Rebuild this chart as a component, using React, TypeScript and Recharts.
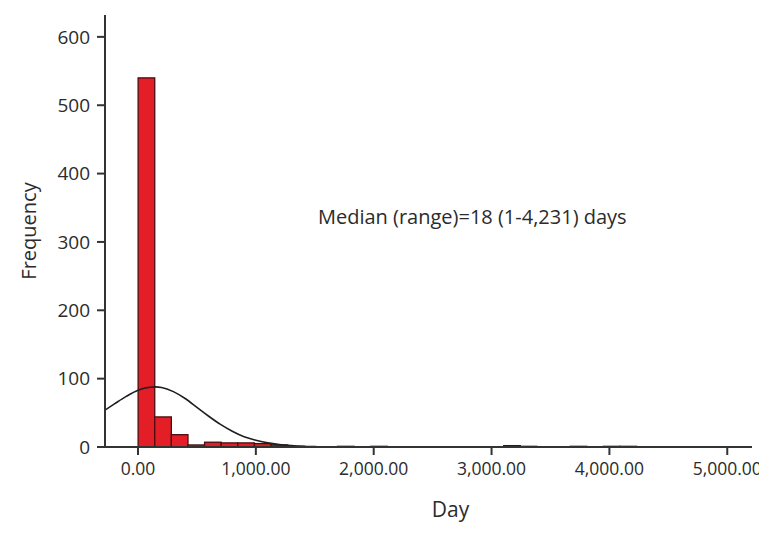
import React from 'react';
import {
  ComposedChart,
  Bar,
  Line,
  XAxis,
  YAxis,
  ReferenceDot,
} from 'recharts';

// Histogram bins (days), bin width from the SPSS-style histogram
const binStarts = [
  1, 142, 283, 424, 565, 706, 847, 988, 1129, 1270,
  1411, 1552, 1693, 1834, 1975, 2116, 2257, 2398, 2539, 2680,
  2821, 2962, 3103, 3244, 3385, 3526, 3667, 3808, 3949, 4090,
];
const binCounts = [
  540, 44, 18, 3, 7, 6, 6, 5, 3, 1,
  0, 0, 1, 0, 1, 0, 0, 0, 0, 0,
  0, 0, 2, 1, 0, 0, 1, 0, 1, 1,
];
const BIN_WIDTH = 141;

// Fitted normal curve
const curveX = [-280, -200, -100, 0, 100, 150, 200, 300, 400, 500, 600, 700, 800, 900, 1000, 1100, 1200, 1300, 1400, 1500, 1600, 1800, 2200, 5210];
const curveY = [54, 63, 74, 83, 87.5, 88, 87, 81, 71, 58, 45, 33, 23, 15, 10, 6, 3.5, 2, 1, 0.5, 0.2, 0, 0, 0];

const xTicks = [0, 1000, 2000, 3000, 4000, 5000];
const yTicks = [0, 100, 200, 300, 400, 500, 600];

const X_MIN = -280;
const X_MAX = 5210;
const Y_MAX = 632;

const CHART_W = 759;
const CHART_H = 525;
const MARGIN = { top: 7, right: 15, left: 0, bottom: 0 };
const Y_AXIS_W = 97;
const X_AXIS_H = 86;
const PLOT_W = CHART_W - MARGIN.left - MARGIN.right - Y_AXIS_W;

const barData = binStarts.map((s, i) => ({ x: s + BIN_WIDTH / 2, count: binCounts[i] }));
const curveData = curveX.map((x, i) => ({ x, y: curveY[i] }));

const FONT = '"Open Sans", "DejaVu Sans", sans-serif';
const TEXT = '#2b2b2b';
const AXIS = '#333333';
const BIN_PX = (PLOT_W * BIN_WIDTH) / (X_MAX - X_MIN);

const fmtX = (v: number) =>
  v.toLocaleString('en-US', { minimumFractionDigits: 2, maximumFractionDigits: 2 });

const BinShape = (props: any) => {
  const { x, y, width, height } = props;
  if (!height || height <= 0) return null;
  const cx = x + width / 2;
  return (
    <rect
      x={cx - BIN_PX / 2}
      y={y}
      width={BIN_PX}
      height={height}
      fill="#e41e26"
      stroke="#4a0c0e"
      strokeWidth={1.3}
    />
  );
};

export default function App() {
  return (
    <div style={{ fontFamily: FONT }}>
      <ComposedChart width={CHART_W} height={CHART_H} data={barData} margin={MARGIN} style={{ overflow: 'visible' }}>
        <XAxis
          xAxisId="b"
          dataKey="x"
          type="number"
          domain={[X_MIN, X_MAX]}
          ticks={xTicks}
          tickFormatter={fmtX}
          height={X_AXIS_H}
          stroke={AXIS}
          strokeWidth={2}
          tickSize={8}
          tick={{ fill: TEXT, fontSize: 17.5, fontFamily: FONT }}
          tickMargin={8}
          allowDataOverflow
          label={{ value: 'Day', position: 'insideBottom', offset: 16, dx: 22, fill: TEXT, fontSize: 21, fontFamily: FONT }}
        />
        <XAxis
          xAxisId="t"
          orientation="top"
          type="number"
          domain={[X_MIN, X_MAX]}
          height={0}
          tick={false}
          tickLine={false}
          stroke={AXIS}
          strokeWidth={2}
          allowDataOverflow
        />
        <YAxis
          yAxisId="l"
          type="number"
          domain={[0, Y_MAX]}
          ticks={yTicks}
          width={Y_AXIS_W}
          stroke={AXIS}
          strokeWidth={2}
          tickSize={8}
          tickMargin={7}
          tick={{ fill: TEXT, fontSize: 19, fontFamily: FONT }}
          allowDataOverflow
          label={{ value: 'Frequency', angle: -90, position: 'insideLeft', offset: 21, fill: TEXT, fontSize: 20, fontFamily: FONT, style: { textAnchor: 'middle' } }}
        />
        <YAxis
          yAxisId="r"
          orientation="right"
          type="number"
          domain={[0, Y_MAX]}
          width={0}
          tick={false}
          tickLine={false}
          stroke={AXIS}
          strokeWidth={2}
          allowDataOverflow
        />
        <Bar
          xAxisId="b"
          yAxisId="l"
          dataKey="count"
          shape={BinShape}
          isAnimationActive={false}
        />
        <Line
          xAxisId="b"
          yAxisId="l"
          data={curveData}
          dataKey="y"
          type="monotone"
          dot={false}
          stroke="#1f1f1f"
          strokeWidth={1.6}
          isAnimationActive={false}
        />
        <ReferenceDot
          xAxisId="b"
          yAxisId="l"
          x={1527}
          y={336}
          r={0}
          ifOverflow="visible"
          label={{ value: 'Median (range)=18 (1-4,231) days', position: 'right', offset: 0, fill: TEXT, fontSize: 20, fontFamily: FONT }}
        />
      </ComposedChart>
    </div>
  );
}
